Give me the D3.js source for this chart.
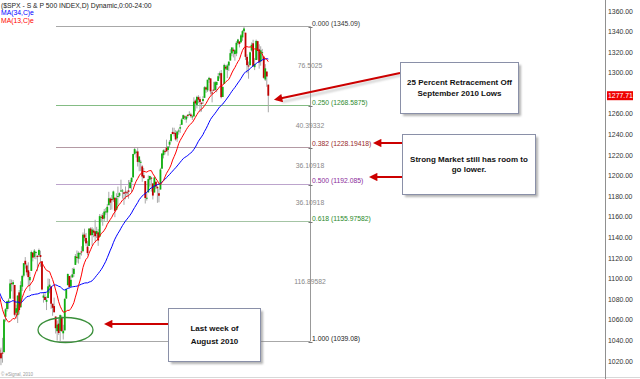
<!DOCTYPE html>
<html><head><meta charset="utf-8">
<script src="https://cdn.jsdelivr.net/npm/d3@7/dist/d3.min.js"></script>
<style>html,body{margin:0;padding:0;background:#fff;overflow:hidden}svg{display:block}</style>
</head><body>
<svg id="chart" width="640" height="379"></svg>
<script>
// ---------------- DATA ----------------
const dates = [
 "7/1","7/2","7/6","7/7","7/8","7/9","7/12","7/13","7/14","7/15","7/16","7/19","7/20","7/21","7/22","7/23","7/26","7/27","7/28","7/29","7/30",
 "8/2","8/3","8/4","8/5","8/6","8/9","8/10","8/11","8/12","8/13","8/16","8/17","8/18","8/19","8/20","8/23","8/24","8/25","8/26","8/27","8/30","8/31",
 "9/1","9/2","9/3","9/7","9/8","9/9","9/10","9/13","9/14","9/15","9/16","9/17","9/20","9/21","9/22","9/23","9/24","9/27","9/28","9/29","9/30",
 "10/1","10/4","10/5","10/6","10/7","10/8","10/11","10/12","10/13","10/14","10/15","10/18","10/19","10/20","10/21","10/22","10/25","10/26","10/27","10/28","10/29",
 "11/1","11/2","11/3","11/4","11/5","11/8","11/9","11/10","11/11","11/12","11/15","11/16","11/17","11/18","11/19","11/22","11/23","11/24","11/26","11/29","11/30",
 "12/1","12/2","12/3","12/6","12/7","12/8","12/9","12/10","12/13","12/14","12/15","12/16","12/17","12/20","12/21","12/22","12/23","12/27","12/28","12/29","12/30","12/31",
 "1/3","1/4","1/5","1/6","1/7","1/10","1/11","1/12","1/13","1/14","1/18","1/19","1/20","1/21","1/24","1/25","1/26","1/27","1/28","1/31",
 "2/1","2/2","2/3","2/4","2/7","2/8","2/9","2/10","2/11","2/14","2/15","2/16","2/17","2/18","2/22","2/23","2/24","2/25","2/28",
 "3/1","3/2","3/3","3/4","3/7","3/8","3/9","3/10","3/11","3/14","3/15"
];
const openP = [
 1031.1,1027.65,1028.09,1028.54,1062.92,1070.5,1077.23,1080.65,1095.61,1094.46,1093.85,1066.85,1064.53,1086.67,1072.14,1092.17,1102.89,1117.36,1112.84,1108.07,1098.44,
 1107.53,1125.34,1121.06,1125.78,1122.07,1122.8,1122.92,1116.89,1081.48,1082.22,1077.49,1081.16,1092.08,1092.44,1075.63,1073.36,1063.2,1048.98,1056.28,1049.27,1062.9,1046.88,
 1049.72,1080.66,1093.61,1102.6,1092.36,1101.15,1104.57,1113.38,1121.16,1119.43,1123.89,1126.39,1126.57,1142.82,1139.49,1131.1,1131.69,1148.64,1142.31,1146.75,1145.97,
 1143.49,1144.96,1140.68,1159.81,1161.57,1158.36,1165.32,1164.28,1171.32,1177.82,1177.47,1176.83,1178.64,1166.74,1179.82,1180.52,1184.74,1184.88,1183.84,1184.47,1183.87,
 1185.71,1187.86,1193.79,1198.34,1221.2,1223.24,1223.59,1213.14,1213.04,1209.07,1200.44,1194.79,1178.33,1183.75,1196.12,1198.07,1192.51,1183.7,1194.16,1189.08,1182.96,
 1186.6,1206.81,1219.93,1223.87,1227.25,1225.02,1230.14,1233.85,1242.52,1241.84,1241.58,1236.34,1243.63,1245.76,1249.43,1254.94,1257.53,1254.66,1259.1,1258.78,1259.44,1256.76,
 1257.62,1272.95,1268.78,1276.29,1274.41,1270.84,1272.58,1275.65,1285.78,1282.9,1293.22,1294.52,1280.85,1283.63,1283.29,1288.17,1291.97,1297.51,1299.63,1276.5,
 1289.14,1305.91,1302.77,1307.01,1311.85,1318.76,1322.48,1318.13,1318.66,1328.73,1330.43,1329.51,1334.37,1340.38,1338.91,1315.44,1307.09,1307.34,1321.61,
 1328.64,1305.47,1312.37,1330.73,1322.72,1311.05,1319.92,1315.72,1293.43,1301.19,1288.46
];
const highP = [
 1033.58,1032.95,1042.5,1060.89,1071.25,1078.16,1080.78,1099.46,1099.08,1098.66,1093.85,1074.7,1083.94,1088.96,1097.5,1103.73,1115.01,1120.95,1114.66,1115.9,1106.44,
 1127.3,1125.44,1128.75,1126.56,1123.06,1129.24,1127.16,1116.89,1086.72,1086.25,1082.62,1100.14,1099.77,1092.44,1075.63,1081.58,1063.2,1059.38,1061.45,1065.21,1064.4,1055.14,
 1081.3,1090.1,1105.1,1102.6,1103.26,1110.27,1110.88,1123.87,1127.36,1126.46,1125.44,1131.47,1144.86,1148.59,1144.38,1136.77,1148.9,1149.92,1150,1148.63,1157.16,
 1150.3,1148.16,1162.76,1162.33,1163.87,1167.73,1168.68,1172.58,1184.38,1178.89,1181.2,1185.53,1178.64,1182.94,1189.43,1183.93,1196.14,1187.11,1183.84,1189.53,1185.46,
 1195.81,1195.88,1198.3,1221.25,1227.08,1224.57,1226.84,1218.75,1215.45,1210.5,1207.43,1194.79,1183.56,1200.29,1199.97,1198.94,1192.51,1198.62,1194.16,1190.34,1187.4,
 1207.61,1221.89,1225.57,1225.8,1235.05,1228.93,1234.71,1240.4,1246.73,1246.59,1244.25,1243.75,1245.81,1250.2,1255.82,1259.39,1258.59,1258.43,1259.9,1262.6,1261.09,1259.34,
 1276.17,1274.12,1277.63,1278.17,1276.83,1271.52,1277.25,1286.87,1286.7,1293.24,1296.06,1294.6,1283.35,1291.21,1291.93,1291.26,1299.74,1301.29,1302.67,1287.17,
 1308.86,1307.61,1308.6,1311,1322.85,1324.87,1324.54,1322.76,1330.79,1332.96,1330.43,1337.61,1341.5,1345.09,1338.91,1317.91,1310.91,1320.61,1329.38,
 1332.09,1314.19,1332.28,1331.08,1327.68,1325.74,1323.21,1315.72,1308.35,1301.19,1288.46
];
const lowP = [
 1010.91,1015.93,1018.35,1028.54,1058.24,1068.1,1070.45,1080.65,1087.68,1080.53,1063.32,1061.11,1056.88,1065.25,1072.14,1087.88,1101.3,1109.78,1103.11,1092.82,1088.01,
 1107.53,1116.76,1119.46,1118.81,1107.17,1120.91,1111.58,1088.55,1076.69,1079,1069.49,1081.16,1085.76,1070.66,1063.91,1067.08,1046.68,1039.83,1045.4,1039.08,1048.79,1040.88,
 1049.72,1080.39,1093.61,1091.15,1092.36,1101.15,1101.71,1113.38,1115.58,1114.63,1118.88,1122.43,1126.57,1136.22,1131.58,1122.79,1131.69,1142,1132.09,1140.26,1136.08,
 1139.42,1131.87,1140.68,1154.85,1151.41,1155.58,1162.02,1155.71,1171.32,1166.71,1167.12,1174.55,1159.71,1166.74,1171.17,1178.99,1184.74,1177.72,1171.7,1177.1,1179.7,
 1177.65,1187.86,1183.56,1198.34,1220.29,1217.55,1208.94,1204.33,1204.49,1194.08,1197.15,1173,1175.82,1183.75,1189.44,1184.58,1176.91,1183.7,1186.93,1173.64,1174.14,
 1186.6,1206.81,1216.82,1220.67,1223.25,1219.5,1226.85,1232.58,1240.34,1238.17,1234.01,1232.85,1239.87,1241.51,1249.43,1254.94,1254.05,1251.48,1256.22,1258.78,1256.32,1254.19,
 1257.62,1262.66,1265.36,1270.43,1261.7,1262.18,1269.62,1275.65,1280.47,1281.24,1290.16,1278.92,1271.26,1282.07,1282.47,1281.07,1291.97,1294.41,1275.1,1276.5,
 1289.14,1302.62,1294.83,1301.67,1311.85,1316.03,1314.89,1311.74,1316.08,1326.9,1324.61,1329.51,1331,1338.12,1312.33,1299.55,1294.26,1307.34,1320.55,
 1306.14,1302.58,1312.37,1312.59,1303.99,1306.86,1312.27,1294.21,1291.99,1286.37,1261.61
];
const closeP = [
 1027.37,1022.58,1028.06,1060.27,1070.25,1077.96,1078.75,1095.34,1095.17,1096.48,1064.88,1071.25,1083.48,1069.59,1093.67,1102.66,1115.01,1113.84,1106.13,1101.53,1101.6,
 1125.86,1120.46,1127.24,1125.81,1121.64,1127.79,1121.06,1089.47,1083.61,1079.25,1079.38,1092.54,1094.16,1075.63,1071.69,1067.36,1051.87,1055.33,1047.22,1064.59,1048.92,1049.33,
 1080.29,1090.1,1104.51,1091.84,1098.87,1104.18,1109.55,1121.9,1121.1,1125.07,1124.66,1125.59,1142.71,1139.78,1134.28,1124.83,1148.67,1142.16,1147.7,1144.73,1141.2,
 1146.24,1137.03,1160.75,1159.97,1158.06,1165.15,1165.32,1169.77,1178.1,1173.81,1176.19,1184.71,1165.9,1178.17,1180.26,1183.08,1185.62,1185.64,1182.45,1183.78,1183.26,
 1184.38,1193.57,1197.96,1221.06,1225.85,1223.25,1213.4,1218.71,1213.54,1199.21,1197.75,1178.34,1178.59,1196.69,1199.73,1197.84,1180.73,1198.35,1189.4,1187.76,1180.55,
 1206.07,1221.53,1224.71,1223.12,1223.75,1228.28,1233,1240.4,1240.46,1241.59,1235.23,1242.87,1243.91,1247.08,1254.6,1258.84,1256.77,1257.54,1258.51,1259.78,1257.88,1257.64,
 1271.87,1270.2,1276.56,1273.85,1271.5,1269.75,1274.48,1285.96,1283.76,1293.24,1295.02,1281.92,1280.26,1283.35,1290.84,1291.18,1296.63,1299.54,1276.34,1286.12,
 1307.59,1304.03,1307.1,1310.87,1319.05,1324.57,1320.88,1321.87,1329.15,1332.32,1328.01,1336.32,1340.43,1343.01,1315.44,1307.4,1306.1,1319.88,1327.22,
 1306.33,1308.44,1330.97,1321.15,1310.13,1321.82,1320.02,1295.11,1304.28,1296.39,1277.71
];
// closes before the visible window (seed for the moving averages)
const priorCloses = [
 1157.44,1135.68,1136.94,1120.8,1115.05,1071.59,1087.69,1073.65,1074.03,1067.95,1103.06,1089.41,
 1070.71,1098.38,1102.83,1064.88,1050.47,1062,1055.69,1086.84,1091.6,1089.63,1115.23,1114.61,
 1116.04,1117.51,1113.2,1095.31,1092.04,1073.69,1076.76,1074.57,1041.24,1030.71
];
const maPeriods = [34, 13];
const maLabels = ["MA(34,C)e", "MA(13,C)e"];
const fibRatios = ["0.000","0.250","0.382","0.500","0.618","1.000"];
const fibPrices = [1345.09, 1268.5875, 1228.19418, 1192.085, 1155.97582, 1039.08];
const fibGaps = ["76.5025","40.39332","36.10918","36.10918","116.89582"];
const priceTicks = [1020,1040,1060,1080,1100,1120,1140,1160,1180,1200,1220,1240,1260,1300,1320,1340,1360];
const lastPrice = 1277.71;
const titleText = "($SPX - S & P 500 INDEX,D) Dynamic,0:00-24:00";
const notes = [
  {lines:["25 Percent Retracement Off","September 2010 Lows"]},
  {lines:["Strong Market still has room to","go lower."]},
  {lines:["Last week of","August 2010"]}
];

// ---------------- DRAW ----------------
const svg = d3.select("#chart");
const font = "Liberation Sans, Arial, sans-serif";
const defs = svg.append("defs");
const blur = defs.append("filter").attr("id","sh").attr("x","-20%").attr("y","-20%").attr("width","140%").attr("height","140%");
blur.append("feGaussianBlur").attr("stdDeviation",1.2);
defs.append("marker").attr("id","ah").attr("viewBox","0 0 10 10").attr("refX",7).attr("refY",5)
  .attr("markerWidth",5.5).attr("markerHeight",4.2).attr("markerUnits","strokeWidth").attr("orient","auto")
  .append("path").attr("d","M0,0 L10,5 L0,10 Z").attr("fill","#cc0000");

const y = d3.scaleLinear().domain([1020, 1360]).range([361, 11]);
const x = d3.scalePoint().domain(dates).range([-0.56, 268.3]);

// bottom / right frame
svg.append("line").attr("x1",0).attr("x2",640).attr("y1",377.5).attr("y2",377.5).attr("stroke","#d8d8d8");
svg.append("line").attr("x1",605.5).attr("x2",605.5).attr("y1",0).attr("y2",379).attr("stroke","#909090");

// fib level lines
const fibLine = ["#a8a8a8","#84bc84","#b49aa4","#bca4cc","#a4c4a4","#a8a8a8"];
const fibText = ["#333333","#2e8b2e","#9a2a2a","#8a2a9a","#2a8a2a","#222222"];
const fx0 = 56, fx1 = 310;
svg.append("g").selectAll("line").data(fibPrices).join("line")
  .attr("x1",fx0).attr("x2",fx1)
  .attr("y1",d=>Math.round(y(d))+0.5).attr("y2",d=>Math.round(y(d))+0.5)
  .attr("stroke",(d,i)=>fibLine[i]).attr("stroke-width",1);

// candles
const idx = d3.range(dates.length);
const g = svg.append("g");
g.selectAll("line").data(idx).join("line")
  .attr("x1",i=>x(dates[i])).attr("x2",i=>x(dates[i]))
  .attr("y1",i=>y(highP[i])).attr("y2",i=>y(lowP[i]))
  .attr("stroke","#a8a8a8").attr("stroke-width",1);
g.selectAll("rect").data(idx).join("rect")
  .attr("x",i=>x(dates[i])-0.9).attr("width",1.8)
  .attr("y",i=>y(Math.max(openP[i],closeP[i])))
  .attr("height",i=>Math.max(1, y(Math.min(openP[i],closeP[i]))-y(Math.max(openP[i],closeP[i]))))
  .attr("fill",i=>closeP[i]>=openP[i] ? "#10b010" : "#c00000");

// moving averages (simple, on close)
const allClose = priorCloses.concat(closeP);
const off = priorCloses.length;
const maColors = ["#0000ff","#ff0000"];
maPeriods.forEach((p,k)=>{
  const pts = idx.map(i=>{
    const j = i+off;
    return [x(dates[i]), y(d3.mean(allClose.slice(j-p+1, j+1)))];
  });
  svg.append("path").attr("d", d3.line()(pts)).attr("fill","none")
    .attr("stroke",maColors[k]).attr("stroke-width",1);
});

// fib vertical & labels
svg.append("line").attr("x1",fx1+0.5).attr("x2",fx1+0.5)
  .attr("y1",y(fibPrices[0])).attr("y2",y(fibPrices[fibPrices.length-1])).attr("stroke","#999");
svg.append("g").selectAll("line").data(fibPrices).join("line")
  .attr("x1",fx1-1.5).attr("x2",fx1+2.5)
  .attr("y1",d=>Math.round(y(d))+1.5).attr("y2",d=>Math.round(y(d))+1.5).attr("stroke","#777");
svg.append("g").selectAll("text").data(fibPrices).join("text")
  .attr("x",fx1+2).attr("y",d=>y(d)-0.5)
  .attr("font-family",font).attr("font-size",6.8).attr("fill",(d,i)=>fibText[i])
  .text((d,i)=>fibRatios[i]+" ("+d+")");
svg.append("g").selectAll("text").data(fibGaps).join("text")
  .attr("x",fx1).attr("y",(d,i)=>(y(fibPrices[i])+y(fibPrices[i+1]))/2+2.5)
  .attr("text-anchor","middle").attr("font-family",font).attr("font-size",6.8).attr("fill","#888")
  .text(d=>d);

// right price axis
svg.append("g").selectAll("text").data(priceTicks).join("text")
  .attr("x",608).attr("y",d=>y(d)+2.5)
  .attr("font-family",font).attr("font-size",6.9).attr("fill","#333")
  .text(d=>d3.format(".2f")(d));
svg.append("rect").attr("x",607).attr("y",y(lastPrice)-4.5).attr("width",26).attr("height",9).attr("fill","#ee0000");
svg.append("text").attr("x",608).attr("y",y(lastPrice)+2.5)
  .attr("font-family",font).attr("font-size",6.9).attr("fill","#fff")
  .text(d3.format(".2f")(lastPrice));

// header
svg.append("text").attr("x",1).attr("y",7.5).attr("font-family",font).attr("font-size",6.8).attr("fill","#222").text(titleText);
maLabels.forEach((t,k)=>svg.append("text").attr("x",1).attr("y",15+k*7.5)
  .attr("font-family",font).attr("font-size",6.8).attr("fill",maColors[k]).text(t));
svg.append("text").attr("x",1).attr("y",376).attr("font-family",font).attr("font-size",4.5).attr("fill","#999").text("© eSignal, 2010");

// ellipse around Aug lows
svg.append("ellipse").attr("cx",65.5).attr("cy",330).attr("rx",27.5).attr("ry",12.5)
  .attr("fill","none").attr("stroke","#3a8f3a").attr("stroke-width",1.3);

// arrows (tip positions)
const arrows = [[400,73,273,100],[402,143,372,143],[402,177,368,177],[168,324,103,324]];
arrows.forEach(a=>{
  svg.append("line").attr("x1",a[0]+1.5).attr("y1",a[1]+2).attr("x2",a[2]+9).attr("y2",a[3]+2)
    .attr("stroke","#999").attr("stroke-width",2).attr("opacity",0.5).attr("filter","url(#sh)");
  const ang = Math.atan2(a[3]-a[1], a[2]-a[0]);
  svg.append("line").attr("x1",a[0]).attr("y1",a[1])
    .attr("x2",a[2]-Math.cos(ang)*3.5).attr("y2",a[3]-Math.sin(ang)*3.5)
    .attr("stroke","#cc0000").attr("stroke-width",2).attr("marker-end","url(#ah)");
});

// callout boxes
const boxes = [[400,62,118,51],[402,134,133,60],[168,308,92,53]];
boxes.forEach((b,k)=>{
  svg.append("rect").attr("x",b[0]+3).attr("y",b[1]+3).attr("width",b[2]).attr("height",b[3])
    .attr("fill","#777").attr("opacity",0.55).attr("filter","url(#sh)");
  svg.append("rect").attr("x",b[0]+0.5).attr("y",b[1]+0.5).attr("width",b[2]).attr("height",b[3])
    .attr("fill","#fff").attr("stroke","#8a90a8").attr("stroke-width",1);
  const ls = notes[k].lines;
  ls.forEach((t,j)=>{
    svg.append("text").attr("x",b[0]+b[2]/2+0.5).attr("y",b[1]+b[3]/2+3+(j-(ls.length-1)/2)*(k==2?13:10.5))
      .attr("text-anchor","middle").attr("font-family",font).attr("font-size",8).attr("font-weight","bold")
      .attr("fill","#111").text(t);
  });
});
</script>
</body></html>
